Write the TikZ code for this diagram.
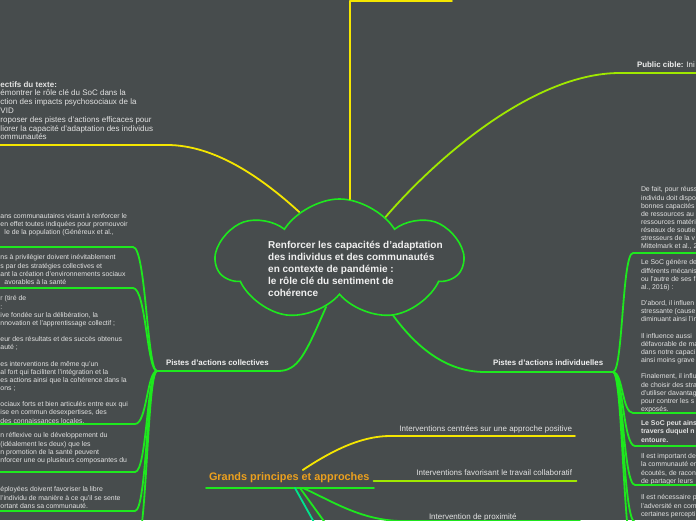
\documentclass[tikz,border=0pt]{standalone}
\usepackage{fontspec}
\setmainfont{Liberation Sans}
\usepackage{tikz}
\usetikzlibrary{shapes.symbols}

\begin{document}
\begin{tikzpicture}[x=1pt,y=1pt,
  branch/.style={line width=1.8pt,line cap=round,line join=round},
  leaf/.style={text=textColor,anchor=north west,align=left,inner sep=0pt,outer sep=0pt,font=\fontsize{6.9}{8.15}\selectfont},
  topic/.style={text=labelColor,anchor=base west,inner sep=0pt,outer sep=0pt,font=\bfseries\fontsize{7.9}{9}\selectfont},
  sublabel/.style={text=textColor,inner sep=0pt,outer sep=0pt,font=\fontsize{8}{9}\selectfont}]
\definecolor{fillColor}{RGB}{71,76,77}
\definecolor{lineGreen}{RGB}{30,232,30}
\definecolor{lineYellow}{RGB}{245,230,0}
\definecolor{lineLime}{RGB}{160,232,0}
\definecolor{lineCyan}{RGB}{0,228,140}
\definecolor{textColor}{RGB}{226,226,226}
\definecolor{labelColor}{RGB}{240,240,240}
\definecolor{orangeColor}{RGB}{236,160,30}
\path[use as bounding box,fill=fillColor] (0,0) rectangle (696,520);
\clip (0,0) rectangle (696,520);

% centre
\node[cloud,cloud puffs=7,cloud puff arc=115,draw=lineGreen,line width=1.6pt,minimum width=245pt,minimum height=122pt,inner sep=0pt] (root) at (339.5,260.0) {};
\node[text=labelColor,anchor=north west,align=left,inner sep=0pt,font=\bfseries\fontsize{10}{12}\selectfont] (title) at (268.0,279.5) {Renforcer les capacités d’adaptation\\des individus et des communautés\\en contexte de pandémie :\\le rôle clé du sentiment de\\cohérence};

% main branches
\coordinate (topend) at (452.0,519.0);
\draw[branch,draw=lineYellow] (root.80) |- (topend);

\node[leaf,font=\fontsize{8}{8.8}\selectfont] (goals) at (0.5,438.7) {\textbf{ectifs du texte:}\\émontrer le rôle clé du SoC dans la\\ction des impacts psychosociaux de la\\VID\\roposer des pistes d'actions efficaces pour\\liorer la capacité d'adaptation des individus\\ommunautés};
\coordinate (goalsend) at (167.0,375.0);
\draw[branch,draw=lineYellow] (root.130) .. controls (262.0,342.0) and (215.0,375.0) .. (goalsend) -- ++(-175,0);

\node[topic] (cible) at (637.0,452.2) {Public cible: \mdseries Ini};
\coordinate (cibleend) at (620.0,447.0);
\draw[branch,draw=lineLime] (root.43) .. controls (430.0,355.0) and (530.0,447.0) .. (cibleend) -- ++(90,0);

\node[topic] (coll) at (166.0,154.2) {Pistes d'actions collectives};
\coordinate (hubL) at (157.0,149.0);
\draw[branch,draw=lineGreen] (root.254) .. controls (305.0,165.0) and (298.0,149.0) .. (278.0,149.0) -- (hubL);

\node[topic] (indiv) at (493.0,154.2) {Pistes d'actions individuelles};
\coordinate (hubR) at (613.0,148.0);
\draw[branch,draw=lineGreen] (root.314) .. controls (420.0,168.0) and (450.0,148.0) .. (485.0,148.0) -- (hubR);

% pistes collectives
\node[leaf] (col1) at (0.5,306.7) {ans communautaires visant à renforcer le\\en effet toutes indiquées pour promouvoir\\\hspace*{4pt}le de la population (Généreux et al.,};
\node[leaf] (col2) at (0.5,265.2) {ns à privilégier doivent inévitablement\\s par des stratégies collectives et\\ant la création d'environnements sociaux\\\hspace*{4pt}avorables à la santé};
\node[leaf] (col3) at (0.5,224.2) {r (tiré de\\:\\ive fondée sur la délibération, la\\nnovation et l'apprentissage collectif ;\\[8.15pt]eur des résultats et des succès obtenus\\auté ;\\[8.15pt]es interventions de même qu'un\\al fort qui facilitent l'intégration et la\\es actions ainsi que la cohérence dans la\\ons ;\\[8.15pt]ociaux forts et bien articulés entre eux qui\\ise en commun desexpertises, des\\des connaissances locales.};
\node[leaf] (col4) at (0.5,87.2) {n réflexive ou le développement du\\(idéalement les deux) que les\\n promotion de la santé peuvent\\nforcer une ou plusieurs composantes du};
\node[leaf] (col5) at (0.5,33.2) {éployées doivent favoriser la libre\\l'individu de manière à ce qu'il se sente\\ortant dans sa communauté.};

\coordinate (ul1) at (133.0,273.0);
\coordinate (ul2) at (133.0,232.0);
\coordinate (ul3) at (135.0,96.0);
\coordinate (ul4) at (135.0,48.0);
\coordinate (ul5) at (135.0,9.0);
\coordinate (ul6) at (135.0,-30.0);
\draw[branch,draw=lineGreen] (hubL) .. controls +(-10,0) and +(13,0) .. (ul1) -- ++(-140,0);
\draw[branch,draw=lineGreen] (hubL) .. controls +(-10,0) and +(13,0) .. (ul2) -- ++(-140,0);
\draw[branch,draw=lineGreen] (hubL) .. controls +(-10,0) and +(12,0) .. (ul3) -- ++(-140,0);
\draw[branch,draw=lineGreen] (hubL) .. controls +(-10,0) and +(12,0) .. (ul4) -- ++(-140,0);
\draw[branch,draw=lineGreen] (hubL) .. controls +(-10,0) and +(12,0) .. (ul5) -- ++(-140,0);
\draw[branch,draw=lineGreen] (hubL) .. controls +(-10,0) and +(12,0) .. (ul6) -- ++(-140,0);

% pistes individuelles
\node[leaf] (ind1) at (641.0,333.2) {De fait, pour réuss\\individu doit dispo\\bonnes capacités\\de ressources au\\ressources matéri\\réseaux de soutie\\stresseurs de la v\\Mittelmark et al., 2};
\node[leaf] (ind2) at (641.0,260.2) {Le SoC génère de\\différents mécanis\\ou l'autre de ses f\\al., 2016) :\\[8.15pt]D'abord, il influen\\stressante (cause\\diminuant ainsi l'in\\[8.15pt]Il influence aussi\\défavorable de ma\\dans notre capaci\\ainsi moins grave\\[8.15pt]Finalement, il influ\\de choisir des stra\\d'utiliser davantag\\pour contrer les s\\exposés.};
\node[leaf,font=\bfseries\fontsize{6.9}{8.15}\selectfont] (ind3) at (641.0,99.2) {Le SoC peut ainsi\\travers duquel n\\entoure.};
\node[leaf] (ind4) at (641.0,66.2) {Il est important de\\la communauté en\\écoutés, de racon\\de partager leurs};
\node[leaf] (ind5) at (641.0,25.2) {Il est nécessaire p\\l'adversité en com\\certaines percepti};

\coordinate (ur1) at (633.0,267.0);
\coordinate (ur2) at (633.0,107.0);
\coordinate (ur3) at (635.0,74.0);
\coordinate (ur4) at (635.0,35.0);
\coordinate (ur5) at (635.0,-2.0);
\coordinate (ur6) at (635.0,-40.0);
\draw[branch,draw=lineGreen] (hubR) .. controls +(10,0) and +(-11,0) .. (ur1) -- ++(70,0);
\draw[branch,draw=lineGreen] (hubR) .. controls +(10,0) and +(-11,0) .. (ur2) -- ++(70,0);
\draw[branch,draw=lineGreen] (hubR) .. controls +(10,0) and +(-12,0) .. (ur3) -- ++(70,0);
\draw[branch,draw=lineGreen] (hubR) .. controls +(10,0) and +(-12,0) .. (ur4) -- ++(70,0);
\draw[branch,draw=lineGreen] (hubR) .. controls +(10,0) and +(-12,0) .. (ur5) -- ++(70,0);
\draw[branch,draw=lineGreen] (hubR) .. controls +(10,0) and +(-12,0) .. (ur6) -- ++(70,0);

% grands principes
\node[text=orangeColor,anchor=base west,inner sep=0pt,outer sep=0pt,font=\bfseries\fontsize{10.9}{12}\selectfont] (gp) at (209.0,39.1) {Grands principes et approches};
\coordinate (gpl) at (206.0,32.0);
\coordinate (gpr) at (374.0,32.0);
\draw[branch,draw=lineGreen] (gpl) -- (gpr);

\node[sublabel,anchor=base east] (gp1) at (572.0,89.0) {Interventions centrées sur une approche positive};
\node[sublabel,anchor=base east] (gp2) at (572.0,45.0) {Interventions favorisant le travail collaboratif};
\node[sublabel,anchor=base west] (gp3) at (429.0,1.0) {Intervention de proximité};

\coordinate (gp1end) at (390.0,84.0);
\draw[branch,draw=lineYellow] ([xshift=13.5pt,yshift=3pt]gp.north) .. controls (330.0,68.0) and (360.0,84.0) .. (gp1end) -- ++(185,0);
\draw[branch,draw=lineLime] ([xshift=4pt]gp.base east) -- ++(203,0);
\coordinate (gp3end) at (400.0,-1.0);
\draw[branch,draw=lineGreen] (303.0,32.0) .. controls (330.0,20.0) and (360.0,0.0) .. (gp3end) -- ++(180,0);
\draw[branch,draw=lineCyan] (295.0,32.0) -- (315.0,-4.0);
\draw[branch,draw=lineGreen] (300.0,32.0) -- (326.0,-4.0);
\end{tikzpicture}
\end{document}
